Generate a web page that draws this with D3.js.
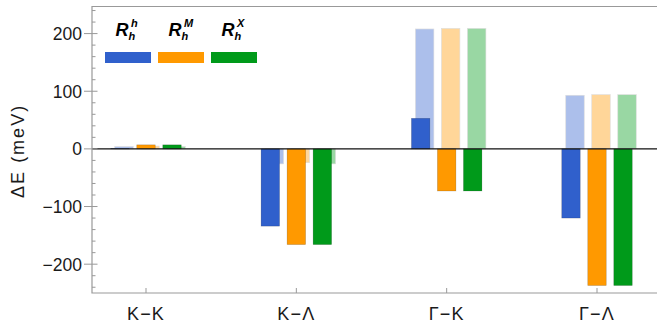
<!DOCTYPE html>
<html>
<head>
<meta charset="utf-8">
<script src="https://cdn.jsdelivr.net/npm/d3@7"></script>
<style>
  body { margin: 0; background: #fff; }
  svg { display: block; font-family: "Liberation Sans", Arial, sans-serif; }
</style>
</head>
<body>
<svg width="657" height="322"></svg>
<script>
// transitions along the x axis
const categories = ["K\u2212K", "K\u2212\u039B", "\u0393\u2212K", "\u0393\u2212\u039B"];
// series names (superscript of R_h)
const series = ["h", "M", "X"];
// solid bars (meV)
const valuesH = [1, -134, 53, -120];
const valuesM = [7, -166, -73, -237];
const valuesX = [7, -166, -73, -237];
// faded bars behind (meV)
const faintH = [4, -26, 208, 93];
const faintM = [5, -24, 209, 94];
const faintX = [4, -26, 209, 94];
const yTicks = [-200, -100, 0, 100, 200];

const colors = ["#3060cc", "#ff9900", "#009a1a"];

const svg = d3.select("svg"),
  width = +svg.attr("width"),
  height = +svg.attr("height");

const mLeft = 92, mRight = 657, mTop = 6.5, mBottom = 293;

const x = d3.scalePoint()
  .domain(categories)
  .range([146, 597]);

const xs = d3.scaleBand()
  .domain(series)
  .range([-35.25, 35.25])
  .paddingInner(0.29);

const y = d3.scaleLinear()
  .domain([-250, 247])
  .range([mBottom, mTop]);

const solid = [valuesH, valuesM, valuesX];
const faint = [faintH, faintM, faintX];

function rows(sets) {
  const out = [];
  sets.forEach(function(vals, s) {
    vals.forEach(function(v, i) {
      out.push({ cat: categories[i], s: series[s], si: s, v: v });
    });
  });
  return out;
}

// faded bars first, shifted a little to the right
svg.append("g").selectAll("rect")
  .data(rows(faint))
  .enter().append("rect")
  .attr("x", d => x(d.cat) + xs(d.s) + 4)
  .attr("width", xs.bandwidth())
  .attr("y", d => y(Math.max(0, d.v)))
  .attr("height", d => Math.abs(y(d.v) - y(0)))
  .attr("fill", d => colors[d.si])
  .attr("fill-opacity", 0.4)
  .attr("stroke", "#ddd")
  .attr("stroke-width", 0.6);

svg.append("g").selectAll("rect")
  .data(rows(solid))
  .enter().append("rect")
  .attr("x", d => x(d.cat) + xs(d.s))
  .attr("width", xs.bandwidth())
  .attr("y", d => y(Math.max(0, d.v)))
  .attr("height", d => Math.abs(y(d.v) - y(0)))
  .attr("fill", d => colors[d.si])
  .attr("stroke", "rgba(0,0,0,0.25)")
  .attr("stroke-width", 0.6);

// zero line
svg.append("line")
  .attr("x1", mLeft).attr("x2", mRight)
  .attr("y1", y(0)).attr("y2", y(0))
  .attr("stroke", "#111").attr("stroke-width", 1.2);

// frame
const frame = "#999";
svg.append("path")
  .attr("d", `M${mRight},${mTop}H${mLeft}V${mBottom}H${mRight}`)
  .attr("fill", "none").attr("stroke", frame).attr("stroke-width", 1.2);

// y ticks
const minor = d3.range(-240, 247, 20).filter(v => yTicks.indexOf(v) < 0);
svg.append("g").selectAll("line")
  .data(minor).enter().append("line")
  .attr("x1", mLeft).attr("x2", mLeft + 3.5)
  .attr("y1", d => y(d)).attr("y2", d => y(d))
  .attr("stroke", frame);
svg.append("g").selectAll("line")
  .data(yTicks).enter().append("line")
  .attr("x1", mLeft - 8).attr("x2", mLeft + 5.5)
  .attr("y1", d => y(d)).attr("y2", d => y(d))
  .attr("stroke", frame);
svg.append("g").selectAll("text")
  .data(yTicks).enter().append("text")
  .attr("x", mLeft - 10)
  .attr("y", d => y(d) + 6.5)
  .attr("text-anchor", "end")
  .attr("font-size", 17.5)
  .attr("fill", "#1a1a1a")
  .text(d => d < 0 ? "\u2212" + Math.abs(d) : d);

// x ticks
svg.append("g").selectAll("line")
  .data(categories).enter().append("line")
  .attr("x1", d => x(d)).attr("x2", d => x(d))
  .attr("y1", mBottom).attr("y2", mBottom - 5)
  .attr("stroke", frame);
svg.append("g").selectAll("text")
  .data(categories).enter().append("text")
  .attr("x", d => x(d))
  .attr("y", 319.5)
  .attr("text-anchor", "middle")
  .attr("font-size", 18)
  .attr("letter-spacing", 1.2)
  .attr("fill", "#1a1a1a")
  .text(d => d);

// y label
svg.append("text")
  .attr("transform", `translate(24,${y(0) + 2}) rotate(-90)`)
  .attr("text-anchor", "middle")
  .attr("font-size", 18)
  .attr("letter-spacing", 2)
  .attr("fill", "#1a1a1a")
  .text("\u0394E (meV)");

// legend
const lx = d3.scaleBand()
  .domain(series)
  .range([105, 257])
  .paddingInner(0.132);

const leg = svg.append("g").selectAll("g")
  .data(series).enter().append("g")
  .attr("transform", d => `translate(${lx(d) + lx.bandwidth() / 2},0)`);

leg.append("rect")
  .attr("x", -lx.bandwidth() / 2)
  .attr("y", 52)
  .attr("width", lx.bandwidth())
  .attr("height", 11)
  .attr("fill", (d, i) => colors[i]);

leg.append("text")
  .attr("x", -12.5).attr("y", 35.5)
  .attr("font-size", 18).attr("font-weight", "bold").attr("font-style", "italic")
  .text("R");
leg.append("text")
  .attr("x", 3).attr("y", 27)
  .attr("font-size", 11).attr("font-weight", "bold").attr("font-style", "italic")
  .text(d => d);
leg.append("text")
  .attr("x", 0.5).attr("y", 40)
  .attr("font-size", 11).attr("font-weight", "bold").attr("font-style", "italic")
  .text("h");
</script>
</body>
</html>
